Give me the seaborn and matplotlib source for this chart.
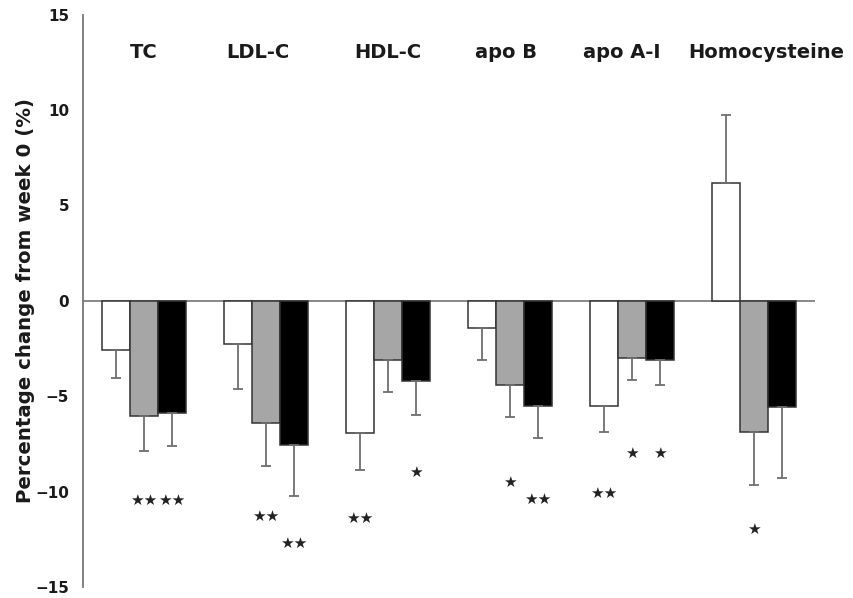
import numpy as np
import pandas as pd
import matplotlib
matplotlib.use("Agg")
import matplotlib.pyplot as plt
import seaborn as sns

# ---- data ----
groups = ["TC", "LDL-C", "HDL-C", "apo B", "apo A-I", "Homocysteine"]
treatments = ["A", "B", "C"]
white_vals = [-2.57, -2.25, -6.93, -1.40, -5.50, 6.16]
gray_vals = [-6.02, -6.40, -3.10, -4.40, -3.00, -6.90]
black_vals = [-5.88, -7.54, -4.22, -5.53, -3.09, -5.59]
white_se = [1.50, 2.37, 1.92, 1.69, 1.40, 3.59]
gray_se = [1.87, 2.24, 1.70, 1.70, 1.17, 2.77]
black_se = [1.75, 2.71, 1.78, 1.66, 1.31, 3.69]

# significance markers: (group index, treatment index, label, y value)
star_group = [0, 0, 1, 1, 2, 2, 3, 3, 4, 4, 4, 5]
star_treat = [1, 2, 1, 2, 0, 2, 1, 2, 0, 1, 2, 1]
star_text = ["★★", "★★", "★★", "★★", "★★", "★", "★", "★★", "★★", "★", "★", "★"]
star_y = [-10.47, -10.47, -11.3, -12.7, -11.4, -9.0, -9.5, -10.42, -10.1, -8.0, -8.0, -12.0]

yticks = [-15, -10, -5, 0, 5, 10, 15]
ylabel = "Percentage change from week 0 (%)"

# ---- build table ----
vals = [white_vals, gray_vals, black_vals]
ses = [white_se, gray_se, black_se]
df = pd.DataFrame({
    "group": np.repeat([groups], 3, axis=0).ravel(),
    "treatment": np.repeat(treatments, len(groups)),
    "value": np.concatenate(vals),
})

sns.set_style("white")
fig = plt.figure(figsize=(8.54, 5.98), dpi=100)
ax = fig.add_axes([0.0972, 0.0184, 0.857, 0.957])

palette = {"A": "white", "B": "#a6a6a6", "C": "black"}
sns.barplot(data=df, x="group", y="value", hue="treatment", order=groups,
            hue_order=treatments, palette=palette, width=0.69,
            errorbar=None, edgecolor="#333333", linewidth=1.1,
            legend=False, ax=ax)

bar_conts = list(ax.containers)

# one-sided error bars at bar centres
for j, cont in enumerate(bar_conts):
    for i, bar in enumerate(cont):
        xc = bar.get_x() + bar.get_width() / 2
        v = vals[j][i]
        e = ses[j][i]
        yerr = [[e], [0]] if v < 0 else [[0], [e]]
        ax.errorbar([xc], [v], yerr=yerr, fmt="none", ecolor="#6e6e6e",
                    elinewidth=1.3, capsize=3.8, capthick=1.3, zorder=1)

# stars
for g, t, s, y in zip(star_group, star_treat, star_text, star_y):
    bar = bar_conts[t][g]
    xc = bar.get_x() + bar.get_width() / 2
    ax.text(xc, y, s, ha="center", va="center", fontsize=11,
            color="#222222", family="DejaVu Sans")

# group labels (small horizontal nudges to match the layout)
label_dx = [0.0, -0.07, 0.0, -0.03, -0.08, 0.1]
for i, g in enumerate(groups):
    ax.text(i + label_dx[i], 13.0, g, ha="center", va="center", fontsize=14,
            fontweight="bold", family="DejaVu Sans", color="#1a1a1a")

ax.axhline(0, color="#888888", lw=1.4, zorder=0.5)
ax.set_xlim(-0.5, 5.5)
ax.set_ylim(-15, 15)
ax.set_yticks(yticks)
ax.set_yticklabels([f"{t:d}".replace("-", "\u2212") if t < 0 else f"{t:d}" for t in yticks],
                   fontsize=11, fontweight="bold", color="#1a1a1a")
ax.set_xticks([])
ax.set_xlabel("")
ax.set_ylabel(ylabel, fontsize=14.2, fontweight="bold", color="#1a1a1a", labelpad=0)
for side in ["top", "right", "bottom"]:
    ax.spines[side].set_visible(False)
ax.spines["left"].set_color("#777777")
ax.spines["left"].set_linewidth(1.3)
ax.tick_params(axis="y", direction="out", length=4, width=1.2, color="#777777", pad=6)
ax.patch.set_alpha(0)

fig.savefig("out.png", dpi=100)
